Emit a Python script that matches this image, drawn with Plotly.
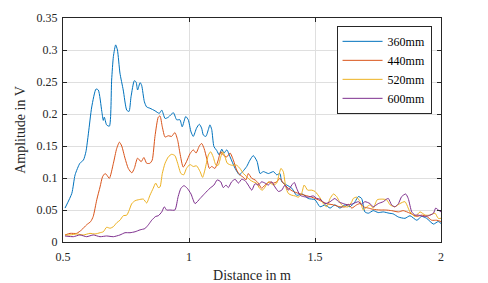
import plotly.graph_objects as go

# ---- data ----
x_360 = [0.508,0.535,0.548,0.567,0.581,0.591,0.601,0.614,0.631,0.640,0.654,0.660,0.664,0.673,0.684,0.693,0.700,0.709,0.716,0.726,0.739,0.753,0.762,0.770,0.783,0.790,0.796,0.806,0.812,0.823,0.832,0.845,0.865,0.882,0.892,0.905,0.918,0.938,0.951,0.964,0.973,0.987,0.997,1.008,1.017,1.030,1.041,1.050,1.057,1.067,1.077,1.083,1.090,1.099,1.110,1.120,1.130,1.139,1.150,1.163,1.183,1.200,1.213,1.229,1.242,1.255,1.270,1.282,1.295,1.315,1.335,1.348,1.361,1.368,1.388,1.408,1.427,1.450,1.473,1.500,1.520,1.540,1.560,1.579,1.599,1.619,1.639,1.659,1.672,1.685,1.698,1.712,1.731,1.751,1.771,1.794,1.810,1.831,1.857,1.877,1.904,1.923,1.943,1.970,1.989,2.000]
y_360 = [0.053,0.076,0.105,0.123,0.128,0.141,0.170,0.211,0.239,0.2375,0.204,0.190,0.195,0.183,0.181,0.253,0.290,0.308,0.300,0.264,0.2375,0.206,0.204,0.227,0.252,0.250,0.2375,0.249,0.245,0.219,0.211,0.209,0.205,0.201,0.206,0.193,0.195,0.202,0.191,0.191,0.180,0.196,0.191,0.172,0.165,0.178,0.184,0.178,0.167,0.165,0.176,0.183,0.176,0.149,0.143,0.136,0.145,0.139,0.144,0.133,0.115,0.105,0.110,0.118,0.128,0.135,0.126,0.107,0.110,0.107,0.110,0.105,0.107,0.094,0.089,0.084,0.073,0.075,0.068,0.066,0.055,0.058,0.053,0.058,0.053,0.058,0.055,0.063,0.071,0.068,0.047,0.045,0.049,0.046,0.047,0.045,0.044,0.039,0.037,0.041,0.034,0.040,0.037,0.028,0.032,0.029]

x_440 = [0.508,0.528,0.554,0.574,0.594,0.610,0.620,0.634,0.647,0.657,0.667,0.673,0.684,0.700,0.713,0.724,0.733,0.746,0.759,0.773,0.783,0.796,0.810,0.821,0.832,0.845,0.854,0.865,0.878,0.885,0.894,0.905,0.918,0.931,0.944,0.955,0.964,0.977,0.990,1.004,1.017,1.028,1.041,1.050,1.060,1.070,1.081,1.090,1.103,1.116,1.126,1.136,1.150,1.163,1.176,1.189,1.202,1.216,1.226,1.235,1.249,1.262,1.275,1.288,1.302,1.321,1.335,1.348,1.361,1.374,1.394,1.414,1.434,1.460,1.487,1.513,1.546,1.573,1.599,1.619,1.632,1.646,1.665,1.679,1.692,1.712,1.731,1.758,1.780,1.804,1.831,1.850,1.877,1.904,1.923,1.943,1.963,1.983,2.000]
y_440 = [0.011,0.0135,0.0135,0.019,0.027,0.032,0.040,0.066,0.086,0.102,0.107,0.105,0.0995,0.123,0.146,0.156,0.150,0.131,0.115,0.108,0.115,0.131,0.1255,0.132,0.123,0.123,0.128,0.165,0.195,0.197,0.180,0.164,0.166,0.165,0.171,0.159,0.139,0.117,0.1255,0.138,0.144,0.139,0.150,0.154,0.146,0.131,0.115,0.118,0.115,0.128,0.141,0.136,0.133,0.139,0.128,0.1125,0.105,0.101,0.097,0.107,0.0995,0.097,0.092,0.084,0.089,0.094,0.092,0.094,0.0995,0.092,0.084,0.079,0.076,0.073,0.070,0.066,0.060,0.058,0.055,0.055,0.059,0.053,0.058,0.060,0.055,0.053,0.051,0.050,0.050,0.049,0.047,0.049,0.045,0.040,0.042,0.040,0.034,0.034,0.032]

x_520 = [0.508,0.528,0.554,0.581,0.607,0.627,0.647,0.660,0.673,0.687,0.700,0.713,0.726,0.739,0.753,0.762,0.773,0.786,0.799,0.819,0.832,0.845,0.858,0.868,0.878,0.885,0.894,0.905,0.918,0.931,0.944,0.955,0.968,0.979,0.990,1.004,1.017,1.030,1.044,1.054,1.063,1.077,1.086,1.096,1.107,1.116,1.126,1.134,1.143,1.152,1.169,1.189,1.202,1.216,1.229,1.242,1.255,1.268,1.280,1.291,1.302,1.315,1.335,1.348,1.357,1.365,1.374,1.384,1.394,1.408,1.421,1.434,1.447,1.457,1.471,1.487,1.500,1.520,1.533,1.546,1.560,1.573,1.586,1.597,1.606,1.619,1.632,1.646,1.652,1.665,1.679,1.692,1.706,1.718,1.731,1.747,1.765,1.784,1.798,1.817,1.837,1.857,1.877,1.897,1.917,1.937,1.956,1.976,1.989,2.000]
y_520 = [0.011,0.011,0.0125,0.011,0.0135,0.0125,0.0145,0.016,0.023,0.0215,0.024,0.030,0.034,0.041,0.042,0.049,0.060,0.0645,0.066,0.067,0.061,0.073,0.084,0.092,0.085,0.086,0.107,0.123,0.133,0.137,0.135,0.123,0.107,0.105,0.115,0.121,0.118,0.119,0.110,0.101,0.1125,0.136,0.141,0.133,0.120,0.120,0.133,0.141,0.133,0.123,0.120,0.120,0.115,0.107,0.102,0.097,0.094,0.092,0.084,0.081,0.086,0.094,0.089,0.092,0.105,0.115,0.110,0.086,0.076,0.073,0.072,0.070,0.076,0.089,0.081,0.081,0.079,0.069,0.060,0.055,0.068,0.075,0.071,0.063,0.058,0.055,0.055,0.063,0.068,0.070,0.063,0.050,0.055,0.058,0.053,0.066,0.067,0.066,0.058,0.055,0.060,0.063,0.047,0.040,0.047,0.042,0.042,0.045,0.037,0.037]

x_600 = [0.508,0.541,0.567,0.594,0.620,0.647,0.673,0.700,0.726,0.746,0.766,0.786,0.806,0.825,0.839,0.852,0.868,0.878,0.892,0.902,0.911,0.925,0.944,0.957,0.968,0.980,0.993,1.008,1.024,1.044,1.063,1.083,1.099,1.112,1.126,1.136,1.147,1.156,1.169,1.183,1.196,1.209,1.222,1.235,1.249,1.262,1.275,1.288,1.302,1.315,1.328,1.341,1.355,1.368,1.381,1.394,1.408,1.418,1.427,1.441,1.454,1.473,1.493,1.507,1.520,1.540,1.560,1.579,1.593,1.612,1.632,1.652,1.672,1.685,1.698,1.718,1.731,1.751,1.771,1.784,1.791,1.804,1.817,1.831,1.844,1.860,1.870,1.884,1.897,1.910,1.930,1.950,1.970,1.979,1.989,2.000]
y_600 = [0.0094,0.0083,0.011,0.0083,0.011,0.0083,0.0094,0.0083,0.011,0.0145,0.0145,0.016,0.019,0.021,0.027,0.034,0.040,0.041,0.047,0.055,0.050,0.050,0.050,0.071,0.084,0.088,0.084,0.075,0.060,0.068,0.076,0.084,0.089,0.097,0.094,0.085,0.089,0.085,0.094,0.098,0.092,0.098,0.096,0.089,0.081,0.091,0.089,0.094,0.092,0.089,0.094,0.086,0.079,0.081,0.089,0.081,0.089,0.093,0.084,0.073,0.071,0.070,0.072,0.068,0.067,0.060,0.063,0.068,0.063,0.060,0.058,0.060,0.063,0.059,0.063,0.060,0.055,0.060,0.063,0.067,0.068,0.058,0.055,0.060,0.071,0.075,0.068,0.047,0.042,0.042,0.040,0.041,0.045,0.053,0.050,0.047]

series_names = ["360mm", "440mm", "520mm", "600mm"]
series_x = [x_360, x_440, x_520, x_600]
series_y = [y_360, y_440, y_520, y_600]
colors = ["#0072BD", "#D95319", "#EDB120", "#7E2F8E"]

x_ticks = [0.5, 1, 1.5, 2]
x_ticktext = ["0.5", "1", "1.5", "2"]
y_ticks = [0, 0.05, 0.1, 0.15, 0.2, 0.25, 0.3, 0.35]
y_ticktext = ["0", "0.05", "0.1", "0.15", "0.2", "0.25", "0.3", "0.35"]

FONT = "Liberation Serif"
AX = "#262626"

fig = go.Figure()
for name, xs, ys, c in zip(series_names, series_x, series_y, colors):
    fig.add_trace(go.Scatter(x=xs, y=ys, mode="lines", name=name,
                             line=dict(color=c, width=1, shape="spline", smoothing=0.6)))

axis_common = dict(showline=True, linecolor=AX, linewidth=1, mirror="ticks",
                   ticks="inside", ticklen=4, tickcolor=AX, tickwidth=1,
                   showgrid=True, gridcolor="#dfdfdf", gridwidth=1, zeroline=False,
                   tickfont=dict(family=FONT, size=12, color=AX))

fig.update_xaxes(range=[0.5, 2], tickvals=x_ticks, ticktext=x_ticktext,
                 ticklabelstandoff=4,
                 title=dict(text="Distance in m", font=dict(family=FONT, size=14, color=AX), standoff=6),
                 **axis_common)
fig.update_yaxes(range=[0, 0.35], tickvals=y_ticks, ticktext=y_ticktext,
                 ticklabelstandoff=2,
                 title=dict(text="Amplitude in V", font=dict(family=FONT, size=14, color=AX), standoff=7),
                 **axis_common)

fig.update_layout(
    width=488, height=283,
    margin=dict(l=63, r=47, t=18, b=41, autoexpand=False),
    paper_bgcolor="white", plot_bgcolor="white",
    font=dict(family=FONT, size=12, color=AX),
    showlegend=True,
    legend=dict(x=0.975, y=0.965, xanchor="right", yanchor="top",
                bgcolor="white", bordercolor=AX, borderwidth=1,
                font=dict(family=FONT, size=12, color="#000000"),
                itemwidth=40, tracegroupgap=0),
)

fig.write_html("out.html", config={"displayModeBar": False},
               post_script="document.body.style.margin='0';document.body.style.padding='0';")
